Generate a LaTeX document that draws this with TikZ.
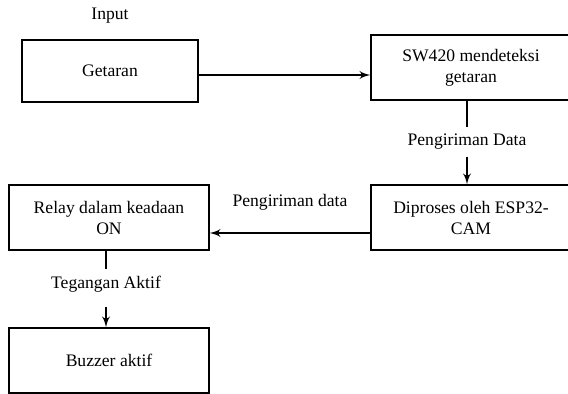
\documentclass[tikz,border=0pt]{standalone}
\usepackage{fontspec}
\setmainfont{Liberation Serif}
\usetikzlibrary{shapes,arrows}
\tikzstyle{block} = [rectangle, draw, line width=0.6pt, align=center,
    minimum width=100pt, minimum height=32.5pt, inner sep=2pt]
\tikzstyle{lbl} = [inner sep=1pt, align=center]
\tikzset{
  line/.style ={draw, line width=0.9pt, -latex', shorten >=0pt},
  link/.style ={draw, line width=0.9pt}
}
\begin{document}
\begin{tikzpicture}[node distance = 180.5pt, auto, font=\fontsize{8.8}{10.5}\selectfont]
   \path [use as bounding box, clip] (0,0) rectangle (284pt,-197pt);
   \node [block, minimum width=88pt, minimum height=31pt] (getaran) at (55pt,-35.5pt) {Getaran};
   \node [lbl, above of=getaran, node distance=27.5pt] (input) {Input};
   \node [block, right of=getaran, yshift=1.75pt] (sw420) {SW420 mendeteksi\\getaran};
   \node [lbl, below of=sw420, node distance=37pt, xshift=-2pt] (kirim_data) {Pengiriman Data};
   \node [block, below of=sw420, node distance=75pt] (esp32) {Diproses oleh ESP32-\\CAM};
   \node [block, left of=esp32, node distance=181pt] (relay) {Relay dalam keadaan\\ON};
   \node [lbl, left of=esp32, node distance=90.5pt, yshift=7.75pt] (kirim_relay) {Pengiriman data};
   \node [lbl, below of=relay, node distance=33.5pt, xshift=-1.5pt] (tegangan) {Tegangan Aktif};
   \node [block, below of=relay, node distance=71.5pt] (buzzer) {Buzzer aktif};
   \path [line] ([yshift=-2pt]getaran.east) -- ([yshift=-2pt]getaran.east -| sw420.west);
   \path [link, shorten >=2pt] (sw420.south -| kirim_data) -- (kirim_data);
   \path [line, shorten <=2.5pt] (kirim_data) -- (kirim_data |- esp32.north);
   \path [line] ([yshift=-7.75pt]esp32.west) -- ([yshift=-7.75pt]esp32.west -| relay.east);
   \path [link, shorten >=2.5pt] (relay.south -| tegangan) -- (tegangan);
   \path [line, shorten <=6pt] (tegangan) -- (tegangan |- buzzer.north);
\end{tikzpicture}
\end{document}
